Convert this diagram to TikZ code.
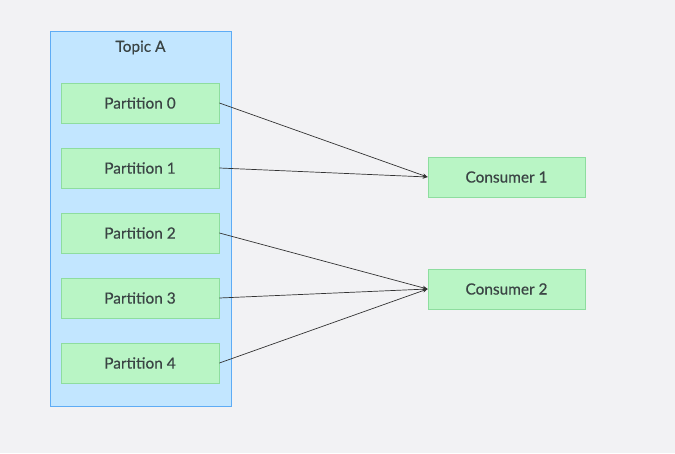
\documentclass[tikz,border=0pt]{standalone}
\usepackage{fontspec}
\newfontfamily\lblfont{Lato}[FakeBold=0.4]
\usetikzlibrary{arrows.meta}
\definecolor{bg}{HTML}{F2F2F4}
\definecolor{topicfill}{HTML}{C2E6FF}
\definecolor{topicdraw}{HTML}{5EACF5}
\definecolor{pfill}{HTML}{B9F5C5}
\definecolor{pdraw}{HTML}{8EDD9F}
\definecolor{txt}{HTML}{3A4444}
\definecolor{edge}{HTML}{333333}
\tikzset{
  lbl/.style={text=txt, font=\lblfont\fontsize{15.4}{17}\selectfont},
  box/.style={draw=pdraw, fill=pfill, line width=0.8pt, minimum width=158pt, minimum height=40pt, inner sep=0pt, lbl},
  conn/.style={draw=edge, line width=0.7pt, -{Stealth[length=5pt,width=4pt]}},
}
\begin{document}
\begin{tikzpicture}[x=1pt,y=-1pt]
\fill[bg] (0,0) rectangle (675,453);
\useasboundingbox (0,0) rectangle (675,453);
\node[draw=topicdraw, fill=topicfill, line width=0.9pt, minimum width=181pt, minimum height=375pt, inner sep=0pt] (topic) at (140.5,218.5) {};
\node[lbl] (tlabel) at (140.5,47.5) {Topic A};
\node[box] (p0) at (140,103) {Partition 0};
\node[box] (p1) at (140,168) {Partition 1};
\node[box] (p2) at (140,233) {Partition 2};
\node[box] (p3) at (140,298) {Partition 3};
\node[box] (p4) at (140,363) {Partition 4};
\node[box, minimum width=157pt] (c1) at (506.5,177) {Consumer 1};
\node[box, minimum width=157pt] (c2) at (506.5,289) {Consumer 2};
\draw[conn] (p0.east) -- (c1.west);
\draw[conn] (p1.east) -- (c1.west);
\draw[conn] (p2.east) -- (c2.west);
\draw[conn] (p3.east) -- (c2.west);
\draw[conn] (p4.east) -- (c2.west);
\end{tikzpicture}
\end{document}
